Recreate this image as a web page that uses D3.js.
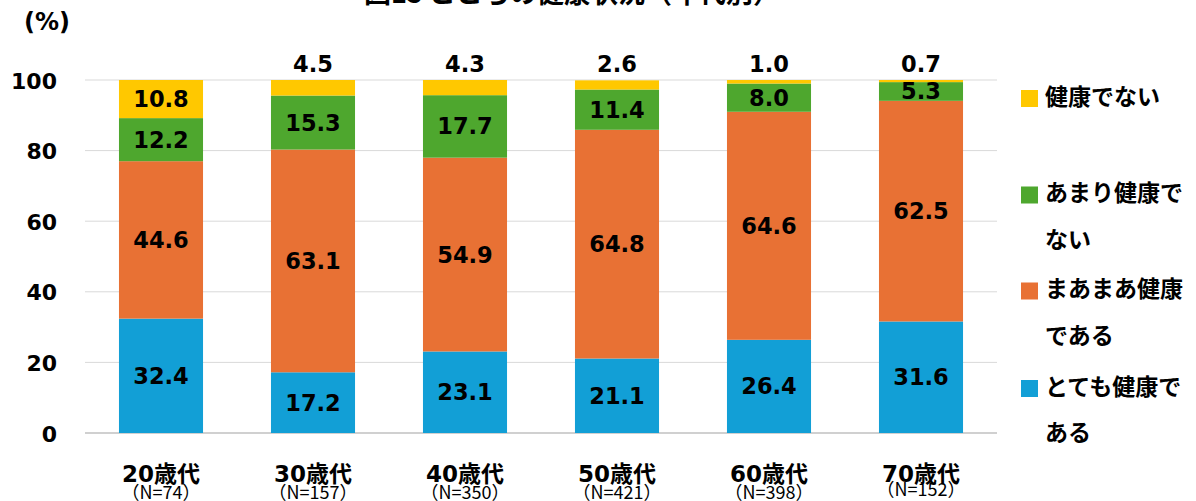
<!DOCTYPE html>
<html>
<head>
<meta charset="utf-8">
<script src="https://cdn.jsdelivr.net/npm/d3@7"></script>
<style>
  body { margin: 0; background: #fff; }
  svg text { font-family: "DejaVu Sans", "Noto Sans CJK JP", sans-serif; fill: #000; }
  svg text.jp { font-family: "Noto Sans CJK JP", sans-serif; }
</style>
</head>
<body>
<svg class="chart"></svg>
<script>
// Chart values.
var ageGroups = ["20歳代", "30歳代", "40歳代", "50歳代", "60歳代", "70歳代"];
var sampleSizes = ["（N=74）", "（N=157）", "（N=350）", "（N=421）", "（N=398）", "（N=152）"];
var seriesNames = ["とても健康である", "まあまあ健康である", "あまり健康でない", "健康でない"];
var veryHealthy = [32.4, 17.2, 23.1, 21.1, 26.4, 31.6];
var fairlyHealthy = [44.6, 63.1, 54.9, 64.8, 64.6, 62.5];
var notVeryHealthy = [12.2, 15.3, 17.7, 11.4, 8.0, 5.3];
var notHealthy = [10.8, 4.5, 4.3, 2.6, 1.0, 0.7];
var yTicks = [0, 20, 40, 60, 80, 100];
var legendLines = [["健康でない"], ["あまり健康で", "ない"], ["まあまあ健康", "である"], ["とても健康で", "ある"]];

window.onload = function () {
    var width = 1196, height = 501;
    var margin = { left: 85, right: 199, top: 80, bottom: 68 };
    var colors = ["#129fd6", "#e87134", "#4ea72e", "#ffc800"];
    var seriesValues = [veryHealthy, fairlyHealthy, notVeryHealthy, notHealthy];

    var svg = d3.select("svg.chart").attr("width", width).attr("height", height);

    var x = d3.scaleBand()
        .domain(ageGroups)
        .range([margin.left, width - margin.right])
        .paddingInner(0.447)
        .paddingOuter(0.2235);

    var y = d3.scaleLinear()
        .domain([0, 100])
        .range([height - margin.bottom, margin.top]);

    // title, mostly cut off at the top edge like in the original
    svg.append("text")
        .attr("class", "jp")
        .attr("x", 572).attr("y", 3)
        .attr("text-anchor", "middle")
        .style("font-size", "27px").style("font-weight", "bold")
        .text("図15 こころの健康状況（年代別）");

    // gridlines
    svg.append("g").selectAll("line")
        .data(yTicks)
        .join("line")
        .attr("x1", margin.left).attr("x2", width - margin.right)
        .attr("y1", d => y(d)).attr("y2", d => y(d))
        .attr("stroke", d => d === 0 ? "#d0d0d0" : "#d9d9d9")
        .attr("stroke-width", d => d === 0 ? 2 : 1);

    // y axis labels
    var yAxis = svg.append("g")
        .attr("transform", "translate(57,0)")
        .call(d3.axisLeft(y).tickValues(yTicks).tickSize(0).tickPadding(0));
    yAxis.select(".domain").remove();
    yAxis.selectAll("text")
        .attr("dy", null)
        .attr("y", 8)
        .attr("font-family", null)
        .attr("font-size", null)
        .style("font-size", "22px").style("font-weight", "bold");

    svg.append("text")
        .attr("x", 47).attr("y", 30)
        .attr("text-anchor", "middle")
        .style("font-size", "24px").style("font-weight", "bold")
        .text("(%)");

    // stacked data
    var rows = ageGroups.map(function (g, i) {
        var row = { group: g };
        seriesNames.forEach(function (s, k) { row[s] = seriesValues[k][i]; });
        return row;
    });
    var stacked = d3.stack().keys(seriesNames)(rows);

    var layers = svg.append("g").selectAll("g")
        .data(stacked)
        .join("g")
        .attr("fill", (d, i) => colors[i]);

    layers.selectAll("rect")
        .data(d => d)
        .join("rect")
        .attr("x", d => x(d.data.group))
        .attr("width", x.bandwidth())
        .attr("y", d => y(Math.min(d[1], 100)))
        .attr("height", d => y(d[0]) - y(Math.min(d[1], 100)));

    // value labels (small top segments get their label above the bar)
    stacked.forEach(function (layer, k) {
        svg.append("g").selectAll("text")
            .data(layer)
            .join("text")
            .attr("x", d => x(d.data.group) + x.bandwidth() / 2)
            .attr("y", function (d) {
                var v = d[1] - d[0];
                if (k === 3 && v < 8) return y(100) - 8;
                return y((d[0] + Math.min(d[1], 100)) / 2) + 8;
            })
            .attr("text-anchor", "middle")
            .style("font-size", "22.5px").style("font-weight", "bold")
            .text(d => (d[1] - d[0]).toFixed(1));
    });

    // category labels
    var cats = svg.append("g").selectAll("g")
        .data(ageGroups)
        .join("g")
        .attr("transform", d => "translate(" + (x(d) + x.bandwidth() / 2) + ",0)");
    cats.append("text")
        .attr("y", 482)
        .attr("text-anchor", "middle")
        .style("font-size", "23px").style("font-weight", "bold")
        .text(d => d);
    cats.append("text")
        .attr("class", "jp")
        .attr("y", (d, i) => i === 5 ? 496 : 499)
        .attr("text-anchor", "middle")
        .style("font-size", "18px")
        .text((d, i) => sampleSizes[i]);

    // legend
    var legendTop = [98.5, 195, 291, 388.5];
    var legendColors = [colors[3], colors[2], colors[1], colors[0]];
    var legend = svg.append("g").selectAll("g")
        .data(legendLines)
        .join("g")
        .attr("transform", (d, i) => "translate(1021," + legendTop[i] + ")");
    legend.append("rect")
        .attr("x", 0).attr("y", -8.5)
        .attr("width", 17).attr("height", 17)
        .attr("fill", (d, i) => legendColors[i]);
    legend.selectAll("text")
        .data(d => d)
        .join("text")
        .attr("class", "jp")
        .attr("x", 24)
        .attr("y", (d, j) => 6 + j * 46.5)
        .style("font-size", "23px").style("font-weight", "bold")
        .text(d => d);
};
</script>
</body>
</html>
